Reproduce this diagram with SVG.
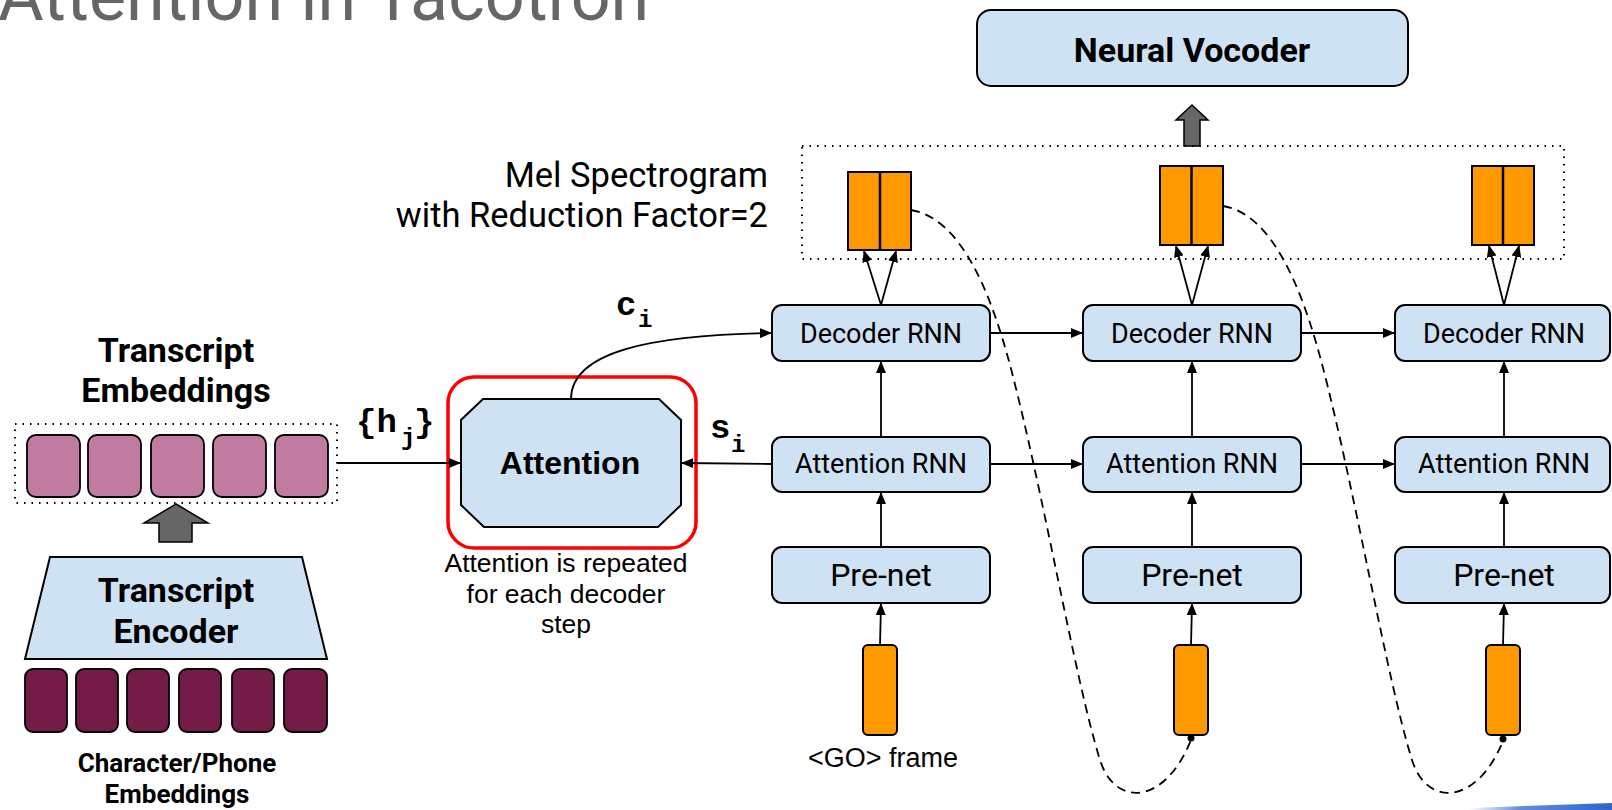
<svg xmlns="http://www.w3.org/2000/svg" width="1612" height="810" viewBox="0 0 1612 810">
  <defs>
    <marker id="arrow" markerUnits="userSpaceOnUse" markerWidth="12" markerHeight="10" refX="11" refY="5" orient="auto">
      <path d="M0,0 L12,5 L0,10 Z" fill="#000"/>
    </marker>
    <linearGradient id="edgeBlue" x1="0" y1="0" x2="1" y2="0">
      <stop offset="0" stop-color="#3c6fd6" stop-opacity="0"/>
      <stop offset="0.35" stop-color="#3c6fd6" stop-opacity="0.8"/>
      <stop offset="1" stop-color="#2f62cc"/>
    </linearGradient>
    <style>
      .blue { fill: #cfe2f3; stroke: #000; stroke-width: 2; }
      .pink { fill: #c27ba0; stroke: #000; stroke-width: 1.8; }
      .plum { fill: #741b47; stroke: #000; stroke-width: 1.8; }
      .mel { fill: #ff9900; stroke: #000; stroke-width: 2; }
      .grey { fill: #666666; stroke: #000; stroke-width: 1.5; }
      .dotted { fill: none; stroke: #000; stroke-width: 2; stroke-dasharray: 1.5 6; }
      .edge { fill: none; stroke: #000; stroke-width: 1.8; }
      .arr { marker-end: url(#arrow); }
      .dash { fill: none; stroke: #000; stroke-width: 1.8; stroke-dasharray: 9 6; }
      .lbl { font-family: Roboto, "Liberation Sans", sans-serif; fill: #000; text-anchor: middle; }
      .end { text-anchor: end; }
      .bold { font-weight: 700; }
      .arial { font-family: "Liberation Sans", Arial, sans-serif; fill: #000; text-anchor: middle; }
      .mono { font-family: "Liberation Mono", "Courier New", monospace; font-weight: 700; fill: #000; }
    </style>
  </defs>

  <rect width="1612" height="810" fill="#fff"/>

  <!-- slide title, partly above the top edge -->
  <text x="-2" y="20" font-family="Roboto, sans-serif" font-weight="400" font-size="70" fill="#666666">Attention in Tacotron</text>

  <!-- slide accent line, bottom right -->
  <polygon points="1470,808 1612,803 1612,810 1470,810" fill="url(#edgeBlue)"/>

  <!-- encoder side -->
  <g id="char-embeddings">
    <rect class="plum" x="25" y="669" width="42" height="63" rx="8"/>
    <rect class="plum" x="76" y="669" width="42" height="63" rx="8"/>
    <rect class="plum" x="127" y="669" width="42" height="63" rx="8"/>
    <rect class="plum" x="179" y="669" width="42" height="63" rx="8"/>
    <rect class="plum" x="232" y="669" width="42" height="63" rx="8"/>
    <rect class="plum" x="284" y="669" width="43" height="63" rx="8"/>
    <text class="lbl bold" x="177" y="772" font-size="26">Character/Phone</text>
    <text class="lbl bold" x="177" y="803" font-size="26">Embeddings</text>
  </g>

  <g id="transcript-encoder">
    <polygon class="blue" points="50,557 302,557 327,659 25,659"/>
    <text class="lbl bold" x="176" y="602" font-size="34">Transcript</text>
    <text class="lbl bold" x="176" y="643" font-size="34">Encoder</text>
  </g>

  <g id="encoder-output">
    <polygon class="grey" points="176,504 208,523 192,523 192,542 159,542 159,523 144,523"/>
  </g>

  <g id="transcript-embeddings">
    <text class="lbl bold" x="176" y="362" font-size="34">Transcript</text>
    <text class="lbl bold" x="176" y="402" font-size="34">Embeddings</text>
    <rect class="dotted" x="15" y="424" width="322" height="79"/>
    <rect class="pink" x="27" y="435" width="53" height="62" rx="9"/>
    <rect class="pink" x="88" y="435" width="53" height="62" rx="9"/>
    <rect class="pink" x="151" y="435" width="53" height="62" rx="9"/>
    <rect class="pink" x="213" y="435" width="53" height="62" rx="9"/>
    <rect class="pink" x="275" y="435" width="53" height="62" rx="9"/>
  </g>

  <!-- attention block -->
  <g id="attention">
    <rect x="448" y="377" width="248" height="171" rx="26" fill="none" stroke="#ff0000" stroke-width="3.5"/>
    <polygon class="blue" points="483,399 659,399 681,420 681,505 658,527 484,527 461,505 461,420"/>
    <text class="arial bold" x="570" y="474" font-size="32">Attention</text>
    <text class="arial" x="566" y="572" font-size="26.5">Attention is repeated</text>
    <text class="arial" x="566" y="603" font-size="26.5">for each decoder</text>
    <text class="arial" x="566" y="633" font-size="26.5">step</text>
  </g>

  <!-- vocoder and spectrogram output -->
  <g id="neural-vocoder">
    <rect class="blue" x="977" y="10" width="431" height="76" rx="14"/>
    <text class="lbl bold" x="1192" y="62" font-size="34">Neural Vocoder</text>
  </g>

  <g id="vocoder-input">
    <polygon class="grey" points="1192,105 1208,120 1200,120 1200,146 1184,146 1184,120 1176,120"/>
  </g>

  <g id="mel-spectrogram">
    <text class="lbl end" x="768" y="187" font-size="34.5">Mel Spectrogram</text>
    <text class="lbl end" x="768" y="227" font-size="34.5">with Reduction Factor=2</text>
    <rect class="dotted" x="802" y="146" width="762" height="113"/>
  </g>

  <g id="mel-frames-1">
    <rect class="mel" x="848" y="172" width="63" height="78"/>
    <line x1="880" y1="172" x2="880" y2="250" stroke="#000" stroke-width="2.5"/>
  </g>
  <g id="mel-frames-2">
    <rect class="mel" x="1160" y="166" width="63" height="79"/>
    <line x1="1191.5" y1="166" x2="1191.5" y2="245" stroke="#000" stroke-width="2.5"/>
  </g>
  <g id="mel-frames-3">
    <rect class="mel" x="1472" y="166" width="62" height="79"/>
    <line x1="1503" y1="166" x2="1503" y2="245" stroke="#000" stroke-width="2.5"/>
  </g>

  <!-- decoder steps -->
  <g id="decoder-rnn-1">
    <rect class="blue" x="772" y="305" width="218" height="56" rx="10"/>
    <text class="lbl" x="881" y="343" font-size="27">Decoder RNN</text>
  </g>
  <g id="decoder-rnn-2">
    <rect class="blue" x="1083" y="305" width="218" height="56" rx="10"/>
    <text class="lbl" x="1192" y="343" font-size="27">Decoder RNN</text>
  </g>
  <g id="decoder-rnn-3">
    <rect class="blue" x="1395" y="305" width="215" height="56" rx="10"/>
    <text class="lbl" x="1504" y="343" font-size="27">Decoder RNN</text>
  </g>

  <g id="attention-rnn-1">
    <rect class="blue" x="772" y="437" width="218" height="55" rx="10"/>
    <text class="lbl" x="881" y="473" font-size="27">Attention RNN</text>
  </g>
  <g id="attention-rnn-2">
    <rect class="blue" x="1083" y="437" width="218" height="55" rx="10"/>
    <text class="lbl" x="1192" y="473" font-size="27">Attention RNN</text>
  </g>
  <g id="attention-rnn-3">
    <rect class="blue" x="1395" y="437" width="215" height="55" rx="10"/>
    <text class="lbl" x="1504" y="473" font-size="27">Attention RNN</text>
  </g>

  <g id="prenet-1">
    <rect class="blue" x="772" y="547" width="218" height="56" rx="10"/>
    <text class="lbl" x="881" y="586" font-size="32">Pre-net</text>
  </g>
  <g id="prenet-2">
    <rect class="blue" x="1083" y="547" width="218" height="56" rx="10"/>
    <text class="lbl" x="1192" y="586" font-size="32">Pre-net</text>
  </g>
  <g id="prenet-3">
    <rect class="blue" x="1395" y="547" width="215" height="56" rx="10"/>
    <text class="lbl" x="1504" y="586" font-size="32">Pre-net</text>
  </g>

  <g id="go-frame">
    <rect class="mel" x="863" y="645" width="34" height="90" rx="5"/>
    <text class="arial" x="883" y="767" font-size="27">&lt;GO&gt; frame</text>
  </g>
  <g id="input-frame-2">
    <rect class="mel" x="1174" y="645" width="34" height="90" rx="5"/>
  </g>
  <g id="input-frame-3">
    <rect class="mel" x="1486" y="645" width="34" height="90" rx="5"/>
  </g>

  <!-- connectors -->
  <g id="connectors">
    <path class="edge arr" d="M337,463 L460,463"/>
    <path class="edge arr" d="M772,464 L682,463"/>
    <path class="edge arr" d="M571,399 C571,352 650,335 771,333"/>

    <path class="edge arr" d="M990,333 L1082,333"/>
    <path class="edge arr" d="M1301,333 L1394,333"/>
    <path class="edge arr" d="M990,464 L1082,464"/>
    <path class="edge arr" d="M1301,464 L1394,464"/>

    <path class="edge arr" d="M881,437 L881,362"/>
    <path class="edge arr" d="M1192,437 L1192,362"/>
    <path class="edge arr" d="M1504,437 L1504,362"/>

    <path class="edge arr" d="M881,547 L881,493"/>
    <path class="edge arr" d="M1192,547 L1192,493"/>
    <path class="edge arr" d="M1504,547 L1504,493"/>

    <path class="edge arr" d="M880,645 L881,604"/>
    <path class="edge arr" d="M1191,645 L1192,604"/>
    <path class="edge arr" d="M1503,645 L1504,604"/>

    <path class="edge arr" d="M881,305 L864,251"/>
    <path class="edge arr" d="M881,305 L896,251"/>
    <path class="edge arr" d="M1192,305 L1176,246"/>
    <path class="edge arr" d="M1192,305 L1208,246"/>
    <path class="edge arr" d="M1504,305 L1489,246"/>
    <path class="edge arr" d="M1504,305 L1519,246"/>

    <path class="dash" d="M911,210 C960,218 990,290 1010,365 C1043,490 1075,680 1100,760 C1115,808 1165,805 1191,740"/>
    <path class="dash" d="M1223,206 C1272,214 1302,288 1322,364 C1355,490 1387,680 1412,760 C1427,808 1477,805 1503,741"/>
    <circle cx="1191" cy="738" r="3.5" fill="#000"/>
    <circle cx="1503" cy="739" r="3.5" fill="#000"/>
  </g>

  <!-- math labels -->
  <g id="labels">
    <text class="mono" font-size="34"><tspan x="356" y="432">{h</tspan><tspan x="401" y="445" font-size="24">j</tspan><tspan x="414" y="432">}</tspan></text>
    <text class="mono" font-size="34"><tspan x="616" y="315">c</tspan><tspan x="638" y="327" font-size="24">i</tspan></text>
    <text class="mono" font-size="34"><tspan x="710" y="438">s</tspan><tspan x="731" y="452" font-size="24">i</tspan></text>
  </g>
</svg>
